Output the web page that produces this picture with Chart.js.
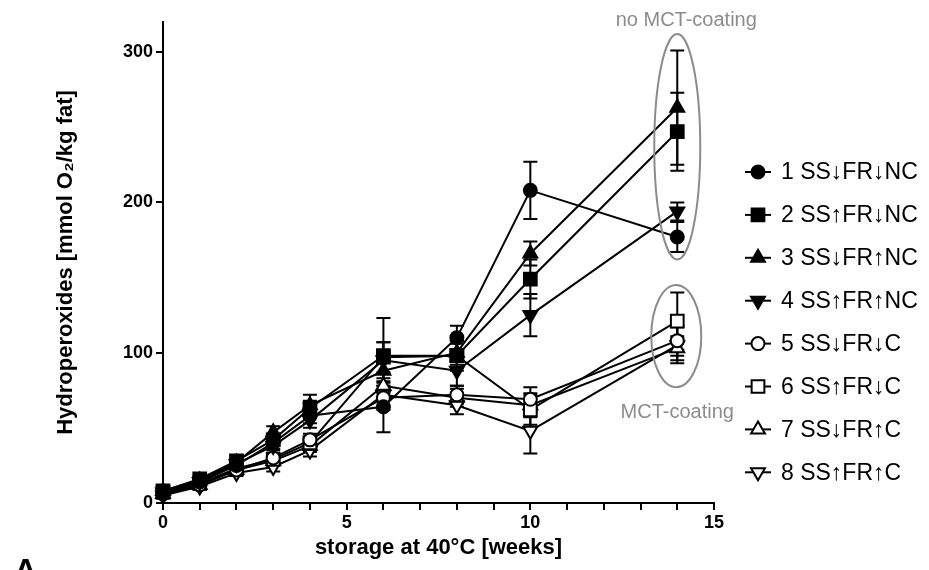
<!DOCTYPE html>
<html>
<head>
<meta charset="utf-8">
<script src="https://cdn.jsdelivr.net/npm/chart.js@4.4.1/dist/chart.umd.min.js"></script>
<style>
  html, body { margin: 0; padding: 0; background: #fff; }
</style>
</head>
<body>
<canvas id="grafico" width="929" height="570"></canvas>
<script>
// storage time (weeks) and hydroperoxide values per sample
const weeks = [0, 1, 2, 3, 4, 6, 8, 10, 14];
const names = ['1 SS\u2193FR\u2193NC', '2 SS\u2191FR\u2193NC', '3 SS\u2193FR\u2191NC', '4 SS\u2191FR\u2191NC',
               '5 SS\u2193FR\u2193C', '6 SS\u2191FR\u2193C', '7 SS\u2193FR\u2191C', '8 SS\u2191FR\u2191C'];
const s1 = [7, 14, 25, 40, 58, 64, 110, 208, 177];
const s2 = [8, 16, 28, 42, 63, 98, 98, 149, 247];
const s3 = [8, 15, 27, 47, 65, 88, 100, 166, 263];
const s4 = [7, 14, 26, 38, 55, 95, 88, 125, 194];
const s5 = [6, 12, 22, 30, 42, 70, 72, 69, 108];
const s6 = [7, 13, 23, 29, 40, 97, 98, 62, 121];
const s7 = [6, 12, 22, 28, 38, 78, 70, 65, 103];
const s8 = [5, 11, 20, 24, 35, 72, 65, 48, 105];
// standard deviations
const e1 = [2, 2, 3, 4, 5, 17, 8, 19, 10];
const e2 = [2, 2, 3, 4, 5, 25, 10, 13, 26];
const e3 = [2, 2, 3, 4, 7, 10, 8, 8, 38];
const e4 = [2, 2, 3, 3, 5, 12, 10, 14, 6];
const e5 = [1, 2, 2, 3, 4, 8, 6, 8, 10];
const e6 = [1, 2, 2, 3, 4, 10, 8, 10, 19];
const e7 = [1, 2, 2, 3, 4, 8, 6, 8, 8];
const e8 = [1, 2, 2, 3, 4, 8, 6, 15, 12];
const yTicks = [0, 100, 200, 300];
const xLabels = [0, 5, 10, 15];

const series = [s1, s2, s3, s4, s5, s6, s7, s8];
const errs = [e1, e2, e3, e4, e5, e6, e7, e8];
const styles = ['circle', 'rect', 'triangle', 'triangle', 'circle', 'rect', 'triangle', 'triangle'];
const rots = [0, 0, 0, 180, 0, 0, 0, 180];
const radii = [6.5, 9, 8, 8, 6.5, 9, 8, 8];
const F = "'Liberation Sans', Arial, 'DejaVu Sans', sans-serif";

const datasets = series.map((s, d) => ({
  label: names[d],
  data: weeks.map((w, i) => ({ x: w, y: s[i] })),
  borderColor: '#000',
  borderWidth: 2,
  backgroundColor: d < 4 ? '#000' : '#fff',
  pointStyle: styles[d],
  pointRotation: rots[d],
  pointRadius: radii[d],
  pointBorderWidth: 2,
  pointBorderColor: '#000',
  pointBackgroundColor: d < 4 ? '#000' : '#fff',
  tension: 0,
  clip: false
}));

const errorBars = {
  id: 'errorBars',
  beforeDatasetsDraw(chart) {
    const { ctx, scales: { x, y } } = chart;
    ctx.save();
    ctx.strokeStyle = '#000';
    ctx.lineWidth = 2;
    errs.forEach((err, d) => {
      series[d].forEach((v, i) => {
        const px = x.getPixelForValue(weeks[i]);
        const top = y.getPixelForValue(v + err[i]);
        const bot = y.getPixelForValue(v - err[i]);
        ctx.beginPath();
        ctx.moveTo(px, top); ctx.lineTo(px, bot);
        ctx.moveTo(px - 7, top); ctx.lineTo(px + 7, top);
        ctx.moveTo(px - 7, bot); ctx.lineTo(px + 7, bot);
        ctx.stroke();
      });
    });
    ctx.restore();
  }
};

const notes = {
  id: 'notes',
  afterDatasetsDraw(chart) {
    const { ctx, scales: { x, y } } = chart;
    ctx.save();
    ctx.strokeStyle = '#8c8c8c';
    ctx.lineWidth = 2;
    const cx = x.getPixelForValue(14);
    // no coating group
    ctx.beginPath();
    ctx.ellipse(cx, (y.getPixelForValue(312) + y.getPixelForValue(162)) / 2, 23,
      (y.getPixelForValue(162) - y.getPixelForValue(312)) / 2, 0, 0, Math.PI * 2);
    ctx.stroke();
    // coating group
    ctx.beginPath();
    ctx.ellipse(cx - 1, (y.getPixelForValue(145) + y.getPixelForValue(77)) / 2, 25,
      (y.getPixelForValue(77) - y.getPixelForValue(145)) / 2, 0, 0, Math.PI * 2);
    ctx.stroke();
    ctx.fillStyle = '#8c8c8c';
    ctx.font = '20px ' + F;
    ctx.textAlign = 'center';
    ctx.textBaseline = 'middle';
    ctx.fillText('no MCT-coating', cx + 9, 20);
    ctx.fillText('MCT-coating', cx, 412);
    ctx.restore();
  },
  afterDraw(chart) {
    const ctx = chart.ctx;
    ctx.save();
    // legend
    ctx.font = '23px ' + F;
    ctx.textBaseline = 'middle';
    ctx.textAlign = 'left';
    names.forEach((n, d) => {
      const yy = 172 + d * 42.9;
      ctx.strokeStyle = '#000';
      ctx.lineWidth = 2;
      ctx.beginPath();
      ctx.moveTo(745, yy); ctx.lineTo(771, yy);
      ctx.stroke();
      ctx.fillStyle = d < 4 ? '#000' : '#fff';
      Chart.helpers.drawPoint(ctx, {
        pointStyle: styles[d], rotation: rots[d], radius: radii[d], borderWidth: 2
      }, 758, yy);
      ctx.fillStyle = '#000';
      ctx.fillText(n, 781, yy + 1);
    });
    // panel letter
    ctx.font = 'bold 32px ' + F;
    ctx.fillText('A', 14, 572);
    ctx.restore();
  }
};

new Chart(document.getElementById('grafico').getContext('2d'), {
  type: 'line',
  data: { datasets },
  options: {
    responsive: false,
    animation: false,
    devicePixelRatio: 1,
    layout: { padding: { left: 53, top: 22, right: 215, bottom: 0 } },
    plugins: { legend: { display: false }, tooltip: { enabled: false } },
    scales: {
      x: {
        type: 'linear', min: 0, max: 15,
        border: { color: '#000', width: 2 },
        grid: { drawOnChartArea: false, color: '#000', lineWidth: 2, tickLength: 7 },
        ticks: {
          stepSize: 1, autoSkip: false, maxRotation: 0, color: '#000', padding: 2,
          font: { family: F, size: 18, weight: 'bold' },
          callback: v => xLabels.includes(v) ? String(v) : ''
        },
        title: {
          display: true, text: 'storage at 40°C [weeks]', color: '#000',
          font: { family: F, size: 22, weight: 'bold' }, padding: { top: 0, bottom: 9 }
        },
        afterFit: s => { s.height = 67; }
      },
      y: {
        min: 0, max: 320,
        afterBuildTicks: a => { a.ticks = yTicks.map(v => ({ value: v })); },
        border: { color: '#000', width: 2 },
        grid: { drawOnChartArea: false, color: '#000', lineWidth: 2, tickLength: 7 },
        ticks: { color: '#000', padding: 3, font: { family: F, size: 18, weight: 'bold' } },
        title: {
          display: true, text: 'Hydroperoxides [mmol O\u2082/kg fat]', color: '#000',
          font: { family: F, size: 22, weight: 'bold' }, padding: { top: 0, bottom: 4 }
        },
        afterFit: s => { s.width = 110; }
      }
    }
  },
  plugins: [errorBars, notes]
});
</script>
</body>
</html>
